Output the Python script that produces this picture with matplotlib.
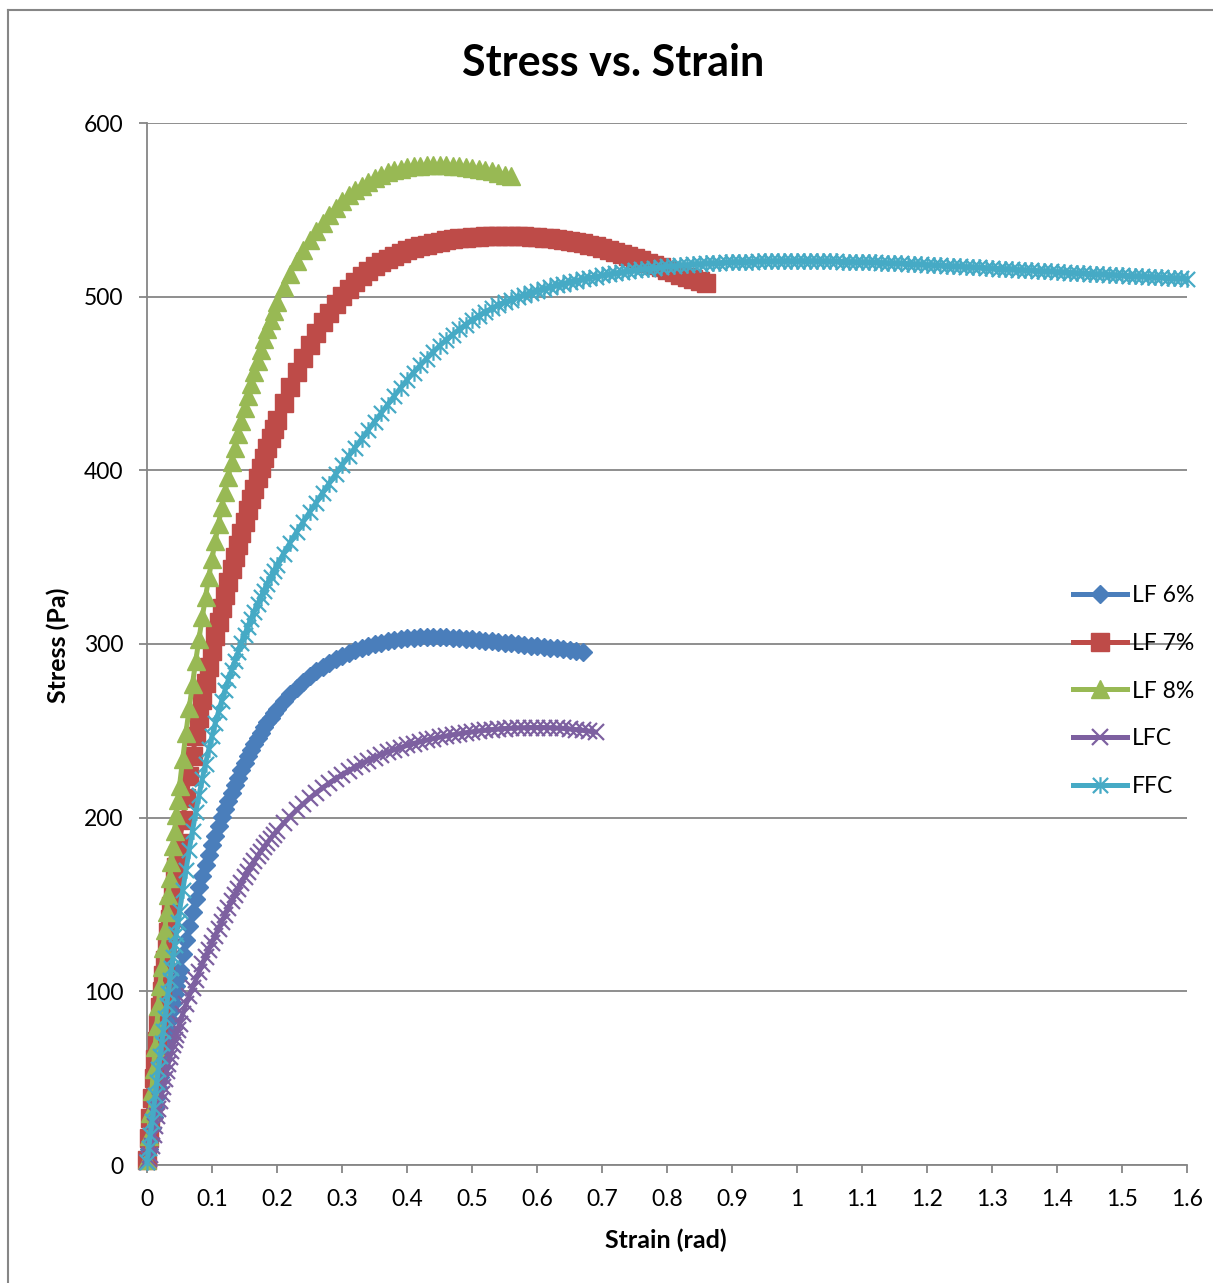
import numpy as np
import matplotlib
matplotlib.use("Agg")
import matplotlib.pyplot as plt
from matplotlib.path import Path
from matplotlib.lines import Line2D
from matplotlib.ticker import MultipleLocator, FuncFormatter

### strain values (rad): fine steps at the start, then 0.005, then 0.01
strain = [0, 0.0025, 0.005, 0.0075, 0.01, 0.0125, 0.015, 0.0175, 0.02, 0.0225,
          0.025, 0.0275, 0.03, 0.0325, 0.035, 0.0375, 0.04, 0.0425, 0.045, 0.0475,
          0.05, 0.055, 0.06, 0.065, 0.07, 0.075, 0.08, 0.085, 0.09, 0.095,
          0.1, 0.105, 0.11, 0.115, 0.12, 0.125, 0.13, 0.135, 0.14, 0.145,
          0.15, 0.155, 0.16, 0.165, 0.17, 0.175, 0.18, 0.185, 0.19, 0.195,
          0.2,
          0.21, 0.22, 0.23, 0.24, 0.25, 0.26, 0.27, 0.28, 0.29, 0.3,
          0.31, 0.32, 0.33, 0.34, 0.35, 0.36, 0.37, 0.38, 0.39, 0.4,
          0.41, 0.42, 0.43, 0.44, 0.45, 0.46, 0.47, 0.48, 0.49, 0.5,
          0.51, 0.52, 0.53, 0.54, 0.55, 0.56, 0.57, 0.58, 0.59, 0.6,
          0.61, 0.62, 0.63, 0.64, 0.65, 0.66, 0.67, 0.68, 0.69, 0.7,
          0.71, 0.72, 0.73, 0.74, 0.75, 0.76, 0.77, 0.78, 0.79, 0.8,
          0.81, 0.82, 0.83, 0.84, 0.85, 0.86, 0.87, 0.88, 0.89, 0.9,
          0.91, 0.92, 0.93, 0.94, 0.95, 0.96, 0.97, 0.98, 0.99, 1.0,
          1.01, 1.02, 1.03, 1.04, 1.05, 1.06, 1.07, 1.08, 1.09, 1.1,
          1.11, 1.12, 1.13, 1.14, 1.15, 1.16, 1.17, 1.18, 1.19, 1.2,
          1.21, 1.22, 1.23, 1.24, 1.25, 1.26, 1.27, 1.28, 1.29, 1.3,
          1.31, 1.32, 1.33, 1.34, 1.35, 1.36, 1.37, 1.38, 1.39, 1.4,
          1.41, 1.42, 1.43, 1.44, 1.45, 1.46, 1.47, 1.48, 1.49, 1.5,
          1.51, 1.52, 1.53, 1.54, 1.55, 1.56, 1.57, 1.58, 1.59, 1.6]

### stress (Pa), one value per strain step, each series stops where it ends
lf6 = [3, 9.2, 15.4, 21.4, 27.4, 33.3, 39.2, 45.0, 50.7, 56.3,
       61.9, 67.3, 72.8, 78.1, 83.3, 88.5, 93.5, 98.4, 103.2, 107.9,
       112.5, 121.3, 129.8, 137.9, 145.6, 152.9, 159.8, 166.4, 172.6, 178.5,
       184.2, 189.7, 195.0, 200.1, 205.0, 209.7, 214.3, 218.8, 223.1, 227.3,
       231.4, 235.3, 239.0, 242.5, 245.9, 249.0, 252.0, 254.8, 257.5, 260.0,
       262.5,
       267.0, 271.1, 274.9, 278.3, 281.4, 284.2, 286.8, 289.1, 291.2, 293.1,
       294.8, 296.3, 297.6, 298.8, 299.8, 300.7, 301.5, 302.2, 302.8, 303.3,
       303.6, 303.9, 304.0, 304.1, 304.0, 303.8, 303.5, 303.2, 302.9, 302.6,
       302.2, 301.9, 301.5, 301.1, 300.7, 300.3, 299.9, 299.5, 299.1, 298.7,
       298.3, 297.9, 297.5, 297.0, 296.5, 296.0, 295.4]

lf7 = [3, 15.3, 27.3, 38.8, 50, 60.8, 71.3, 81.3, 91, 100.3,
       109.3, 117.8, 126, 133.9, 141.7, 149.3, 156.8, 164.2, 171.4, 178.4,
       185.3, 198.7, 211.5, 223.8, 235.5, 246.8, 257.5, 267.8, 277.5, 286.8,
       295.8, 304.5, 312.8, 320.8, 328.5, 335.9, 343.2, 350.3, 357.2, 363.9,
       370.5, 376.9, 383.3, 389.4, 395.5, 401.4, 407.3, 413.0, 418.5, 423.8,
       429.0,
       438.8, 448.0, 456.7, 464.7, 472.2, 479.0, 485.2, 490.8, 496.0, 500.5,
       504.6, 508.3, 511.7, 514.7, 517.4, 519.8, 521.9, 523.7, 525.3, 526.7,
       527.9, 529.0, 530.0, 530.9, 531.7, 532.4, 533.0, 533.5, 533.9, 534.2,
       534.5, 534.7, 534.9, 535.0, 535.0, 535.0, 534.9, 534.7, 534.5, 534.2,
       533.9, 533.5, 533.0, 532.5, 531.9, 531.3, 530.7, 530.0, 529.1, 528.0,
       527.0, 526.0, 524.8, 523.6, 522.3, 521.0, 519.6, 518.2, 516.8, 515.4,
       514.0, 512.7, 511.4, 510.2, 509.0, 507.9]

lf8 = [3, 16.6, 29.9, 42.8, 55.5, 67.8, 79.9, 91.6, 103, 114.1,
       124.9, 135.3, 145.5, 155.4, 165.0, 174.5, 183.7, 192.6, 201.4, 209.9,
       218.2, 234.0, 249.0, 263.3, 277.0, 290.3, 303.0, 315.3, 327.0, 338.3,
       349.1, 359.4, 369.3, 378.8, 387.8, 396.4, 404.8, 412.9, 420.8, 428.4,
       435.8, 442.9, 449.9, 456.6, 463.1, 469.4, 475.5, 481.3, 486.8, 492.0,
       496.8,
       505.5, 513.2, 520.3, 526.7, 532.5, 537.8, 542.7, 547.2, 551.3, 555.0,
       558.3, 561.3, 564.0, 566.3, 568.3, 570.0, 571.5, 572.7, 573.7, 574.5,
       575.0, 575.4, 575.6, 575.8, 575.8, 575.7, 575.5, 575.2, 574.8, 574.3,
       573.7, 573.0, 572.2, 571.3, 570.3, 569.2]

lfc = [2, 3.5, 6, 11, 17, 22.5, 28, 32.5, 37, 41,
       45, 49.5, 54, 58, 62, 65.5, 69, 72, 75, 78,
       81, 87, 92.5, 97.5, 102, 106.5, 111, 115.5, 120, 124,
       128, 132, 136, 140, 144, 148, 151.8, 155.5, 159, 162.5,
       165.8, 169, 172, 175, 177.8, 180.5, 183.1, 185.6, 188, 190.3,
       192.5,
       196.7, 200.6, 204.3, 207.8, 211.1, 214.2, 217.1, 219.8, 222.3, 224.7,
       226.9, 229.0, 231.0, 232.9, 234.6, 236.2, 237.7, 239.1, 240.4, 241.6,
       242.7, 243.7, 244.6, 245.5, 246.3, 247.0, 247.7, 248.3, 248.9, 249.4,
       249.9, 250.3, 250.7, 251.0, 251.3, 251.5, 251.7, 251.8, 251.9, 251.9,
       251.9, 251.8, 251.6, 251.4, 251.1, 250.7, 250.3, 249.8, 249.3]

ffc = [2, 9.7, 17.4, 25.1, 32.7, 40.2, 47.8, 55.2, 62.7, 70.1,
       77.4, 84.7, 92.0, 99.2, 106.3, 113.2, 120.0, 126.7, 133.3, 139.7,
       146.0, 158.3, 170.1, 181.5, 192.5, 203.0, 212.9, 222.2, 231.0, 239.3,
       247.0, 254.3, 261.0, 267.4, 273.5, 279.3, 284.8, 290.1, 295.3, 300.3,
       305.1, 309.8, 314.3, 318.6, 322.8, 326.8, 330.8, 334.6, 338.3, 341.8,
       345.3,
       352.0, 358.3, 364.4, 370.2, 375.8, 381.2, 387.0, 392.4, 397.7, 403.0,
       408.1, 413.1, 418.1, 423.1, 428.0, 432.9, 437.8, 442.6, 447.4, 452.0,
       456.3, 460.4, 464.3, 468.1, 471.7, 475.0, 478.1, 481.1, 483.9, 486.6,
       489.0, 491.2, 493.2, 495.1, 496.8, 498.3, 499.7, 501.0, 502.3, 503.5,
       504.6, 505.6, 506.6, 507.5, 508.4, 509.2, 510.0, 510.8, 511.5, 512.2,
       512.9, 513.5, 514.1, 514.7, 515.2, 515.7, 516.2, 516.6, 517.0, 517.4,
       517.7, 518.0, 518.3, 518.6, 518.9, 519.1, 519.3, 519.5, 519.7, 519.9,
       520.0, 520.1, 520.2, 520.3, 520.4, 520.5, 520.5, 520.6, 520.6, 520.6,
       520.6, 520.6, 520.5, 520.5, 520.4, 520.3, 520.2, 520.1, 520.0, 519.9,
       519.8, 519.7, 519.6, 519.4, 519.3, 519.1, 519.0, 518.8, 518.6, 518.4,
       518.2, 518.0, 517.8, 517.6, 517.4, 517.2, 517.0, 516.8, 516.6, 516.4,
       516.2, 516.0, 515.8, 515.5, 515.3, 515.1, 514.9, 514.7, 514.5, 514.3,
       514.1, 513.9, 513.7, 513.5, 513.3, 513.1, 512.9, 512.7, 512.5, 512.3,
       512.1, 511.9, 511.7, 511.5, 511.3, 511.1, 510.9, 510.7, 510.5, 510.3]

labels = ["LF 6%", "LF 7%", "LF 8%", "LFC", "FFC"]
series = [lf6, lf7, lf8, lfc, ffc]

### Excel-like marker: an x with a vertical bar through it
star = Path([(-1, -1), (1, 1), (-1, 1), (1, -1), (0, -1.1), (0, 1.1)],
            [Path.MOVETO, Path.LINETO, Path.MOVETO, Path.LINETO, Path.MOVETO, Path.LINETO])

colors = ["#4A7EBB", "#BE4B48", "#98B954", "#7D60A0", "#46AAC5"]
markers = ["D", "s", "^", "x", star]
msizes = [9.5, 12.5, 13, 11.5, 12]
mews = [1, 1, 1, 1.6, 1.6]

plt.rcParams['font.family'] = ['Lato', 'DejaVu Sans']
grey = "#868686"

fig = plt.figure(figsize=(12.13, 12.83), dpi=100)
W, H = 1213.0, 1283.0
ax = fig.add_axes([147 / W, 1 - 1165 / H, 1040 / W, 1042 / H])

for ys, lab, c, mk, ms, mew in zip(series, labels, colors, markers, msizes, mews):
    xs = strain[:len(ys)]
    ax.plot(xs, ys, color=c, lw=3.6, marker=mk, ms=ms, mew=mew,
            mec=c, mfc=c, label=lab, clip_on=False, zorder=3)

ax.set_xlim(0, 1.6)
ax.set_ylim(0, 600)
ax.xaxis.set_major_locator(MultipleLocator(0.1))
ax.yaxis.set_major_locator(MultipleLocator(100))
ax.xaxis.set_major_formatter(FuncFormatter(lambda v, p: "%g" % round(v, 2)))
ax.yaxis.grid(True, color=grey, lw=1.3)
ax.set_axisbelow(True)
for s in ["top", "right"]:
    ax.spines[s].set_visible(False)
for s in ["left", "bottom"]:
    ax.spines[s].set_color(grey)
    ax.spines[s].set_linewidth(1.3)
ax.tick_params(axis="both", direction="out", length=6, width=1.3, color=grey,
               labelsize=16.5, labelcolor="black")
ax.tick_params(axis="x", pad=11)
ax.tick_params(axis="y", pad=11)

fig.text(613 / W, 1 - 63 / H, "Stress vs. Strain", ha="center", va="center",
         fontsize=31, fontweight="bold")
fig.text(666 / W, 1 - 1240 / H, "Strain (rad)", ha="center", va="center",
         fontsize=18, fontweight="bold")
fig.text(58 / W, 1 - 645 / H, "Stress (Pa)", ha="center", va="center",
         rotation=90, fontsize=18, fontweight="bold")

fig.legend(loc="center left", bbox_to_anchor=(1073 / W, 1 - 691 / H), frameon=False,
           fontsize=16.5, numpoints=1, handlelength=2.36, handletextpad=0.22,
           labelspacing=1.17, borderpad=0, borderaxespad=0)

### grey chart-area border (left and top edges visible)
fig.add_artist(Line2D([8 / W, 8 / W], [0, 1 - 10 / H], color=grey, lw=1.5))
fig.add_artist(Line2D([8 / W, 1], [1 - 10 / H, 1 - 10 / H], color=grey, lw=1.5))

fig.savefig("out.png", dpi=100)
